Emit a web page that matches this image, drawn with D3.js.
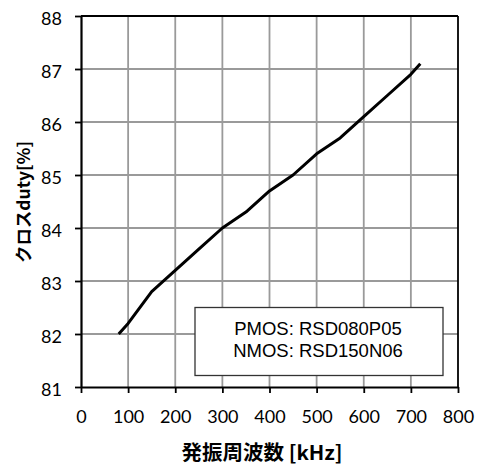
<!DOCTYPE html>
<html>
<head>
<meta charset="utf-8">
<script src="https://cdn.jsdelivr.net/npm/d3@7"></script>
<style>
  html, body { margin: 0; padding: 0; background: #fff; }
  svg { display: block; }
</style>
</head>
<body>
<svg id="chart" width="491" height="466"></svg>
<script>
// Oscillation frequency [kHz] vs. cross duty [%]
const freqKHz = [80, 100, 150, 200, 250, 300, 350, 400, 450, 500, 550, 600, 650, 700, 720];
const crossDuty = [82.0, 82.2, 82.8, 83.2, 83.6, 84.0, 84.3, 84.7, 85.0, 85.4, 85.7, 86.1, 86.5, 86.9, 87.1];
const xTicks = [0, 100, 200, 300, 400, 500, 600, 700, 800];
const yTicks = [81, 82, 83, 84, 85, 86, 87, 88];
const legendLines = ["PMOS: RSD080P05", "NMOS: RSD150N06"];
const xTitle = "発振周波数 [kHz]";
const yTitle = "クロスduty[%]";

const svg = d3.select("#chart");
const plotL = 81, plotR = 458, plotT = 16, plotB = 387;

const x = d3.scaleLinear().domain([0, 800]).range([plotL, plotR]);
const y = d3.scaleLinear().domain([81, 88]).range([plotB, plotT]);

const tickFont = "Lato, 'Open Sans', sans-serif";

// grid
const grid = svg.append("g").attr("stroke", "#9a9a9a").attr("stroke-width", 1.8);
grid.selectAll("line.v").data(xTicks.slice(1, -1)).join("line")
  .attr("class", "v")
  .attr("x1", d => x(d)).attr("x2", d => x(d))
  .attr("y1", plotT).attr("y2", plotB);
grid.selectAll("line.h").data(yTicks.slice(1, -1)).join("line")
  .attr("class", "h")
  .attr("x1", plotL).attr("x2", plotR)
  .attr("y1", d => y(d)).attr("y2", d => y(d));

// frame (top and right)
svg.append("line").attr("x1", plotL).attr("x2", plotR).attr("y1", plotT).attr("y2", plotT)
  .attr("stroke", "#000").attr("stroke-width", 2);
svg.append("line").attr("x1", plotR).attr("x2", plotR).attr("y1", plotT).attr("y2", plotB)
  .attr("stroke", "#000").attr("stroke-width", 1.8);

// axes
const yAxis = svg.append("g").attr("transform", `translate(${plotL},0)`)
  .call(d3.axisLeft(y).tickValues(yTicks).tickFormat(d3.format("d")).tickSize(6).tickSizeOuter(0).tickPadding(13));
const xAxis = svg.append("g").attr("transform", `translate(0,${plotB})`)
  .call(d3.axisBottom(x).tickValues(xTicks).tickFormat(d3.format("d")).tickSize(6).tickSizeOuter(0).tickPadding(17));

[yAxis, xAxis].forEach(g => {
  g.select(".domain").attr("stroke", "#000").attr("stroke-width", 2.2);
  g.selectAll(".tick line").attr("stroke", "#000").attr("stroke-width", 1.8);
  g.selectAll(".tick text").attr("fill", "#000")
    .style("font-family", tickFont).style("font-size", "18px");
});
yAxis.selectAll(".tick text").attr("dy", "0.45em");

// data line
svg.append("path")
  .datum(freqKHz.map((f, i) => [f, crossDuty[i]]))
  .attr("fill", "none").attr("stroke", "#000").attr("stroke-width", 3)
  .attr("stroke-linejoin", "round")
  .attr("d", d3.line().x(d => x(d[0])).y(d => y(d[1])));

// legend box
const lg = svg.append("g");
lg.append("rect").attr("x", 195).attr("y", 307.5).attr("width", 248).attr("height", 68)
  .attr("fill", "#fff").attr("stroke", "#333").attr("stroke-width", 1.3);
lg.selectAll("text").data(legendLines).join("text")
  .attr("x", 318).attr("y", (d, i) => 335 + i * 21.7)
  .attr("text-anchor", "middle")
  .style("font-family", "'Liberation Sans', Arial, sans-serif").style("font-size", "18.5px")
  .attr("fill", "#000").text(d => d);

// axis titles
svg.append("text").attr("x", 262).attr("y", 460).attr("text-anchor", "middle")
  .attr("textLength", 161).attr("lengthAdjust", "spacingAndGlyphs")
  .style("font-family", "'Noto Sans CJK JP', sans-serif").style("font-size", "20px")
  .style("font-weight", "bold").attr("fill", "#000").text(xTitle);

svg.append("text").attr("transform", "translate(30,202) rotate(-90)").attr("text-anchor", "middle")
  .attr("textLength", 122).attr("lengthAdjust", "spacingAndGlyphs")
  .style("font-family", "'Noto Sans CJK JP', sans-serif").style("font-size", "17px")
  .style("font-weight", "bold").attr("fill", "#000").text(yTitle);
</script>
</body>
</html>
